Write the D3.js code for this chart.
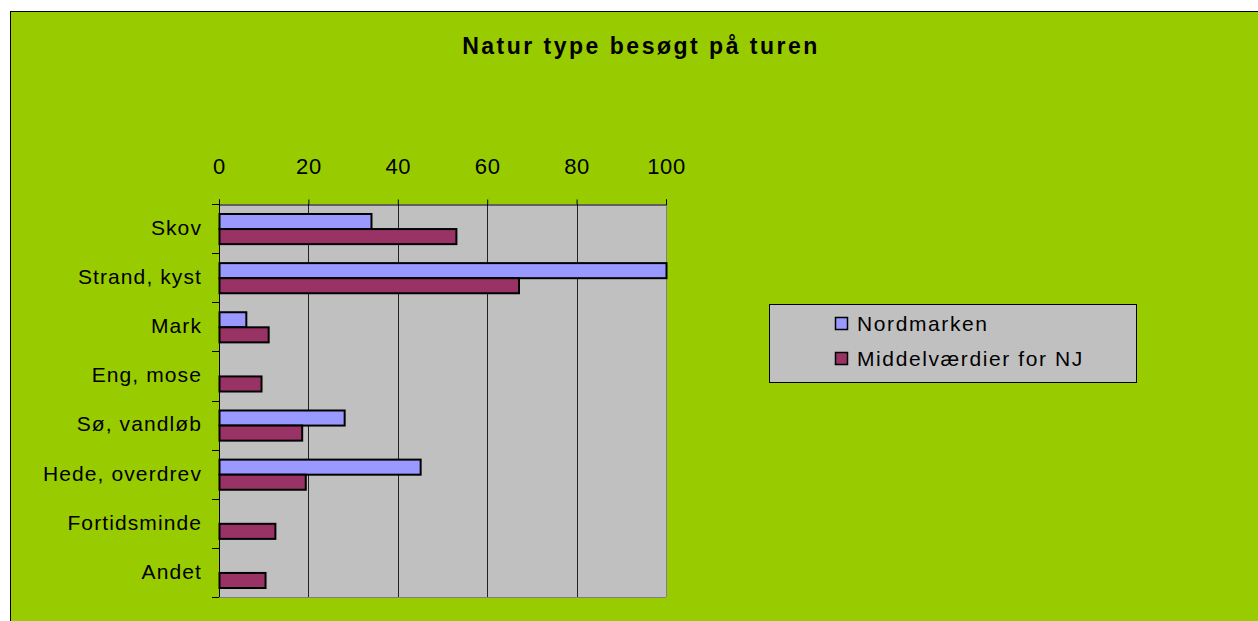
<!DOCTYPE html>
<meta charset="utf-8">
<html>
  <head>
    <script src="https://d3js.org/d3.v7.min.js"></script>
    <style>
      body { margin: 0; background: #fff; }
      text { font-family: Arial, "Liberation Sans", sans-serif; }
    </style>
  </head>
  <body>
    <div id="chart"></div>

    <script type="text/javascript">
      var categories = ["Skov", "Strand, kyst", "Mark", "Eng, mose", "Sø, vandløb", "Hede, overdrev", "Fortidsminde", "Andet"];
      var seriesNames = ["Nordmarken", "Middelværdier for NJ"];
      var nordmarken = [34, 100, 6, 0, 28, 45, 0, 0];
      var middel = [53, 67, 11, 9.4, 18.5, 19.3, 12.5, 10.3];
      var xTicks = [0, 20, 40, 60, 80, 100];
      var colors = ["#9999FF", "#993366"];

      var W = 1258, H = 621,
          plot = { left: 219, right: 666, top: 204, bottom: 597 };

      var svg = d3.select("#chart").append("svg")
          .attr("width", W)
          .attr("height", H);

      // green chart area
      svg.append("rect")
          .attr("x", 10.5).attr("y", 11.5)
          .attr("width", W).attr("height", H)
          .style("fill", "#99CC00")
          .style("stroke", "#000")
          .style("stroke-width", 1);

      svg.append("text")
          .attr("x", 641).attr("y", 54)
          .style("text-anchor", "middle")
          .style("font-weight", "bold")
          .style("font-size", "23px")
          .style("letter-spacing", "2.5px")
          .text("Natur type besøgt på turen");

      var x = d3.scaleLinear().domain([0, 100]).range([plot.left, plot.right]);
      var y = d3.scaleBand().domain(categories).range([plot.top, plot.bottom]);
      var y1 = d3.scaleBand().domain(d3.range(seriesNames.length))
          .range([0, y.bandwidth()]).paddingOuter(0.63).paddingInner(0);

      svg.append("rect")
          .attr("x", plot.left).attr("y", plot.top)
          .attr("width", plot.right - plot.left)
          .attr("height", plot.bottom - plot.top)
          .style("fill", "#C0C0C0");

      // gridlines
      svg.selectAll(".grid")
          .data(xTicks.slice(1))
          .enter().append("line")
            .attr("x1", function(d) { return Math.round(x(d)) + 0.5; })
            .attr("x2", function(d) { return Math.round(x(d)) + 0.5; })
            .attr("y1", plot.top).attr("y2", plot.bottom)
            .style("stroke", function(d) { return d == 100 ? "#808080" : "#222"; })
            .style("stroke-width", 1);

      svg.append("line")
          .attr("x1", plot.left).attr("x2", plot.right)
          .attr("y1", plot.bottom + 0.5).attr("y2", plot.bottom + 0.5)
          .style("stroke", "#808080");

      // top axis
      var xAxis = d3.axisTop(x).tickValues(xTicks).tickSize(5).tickPadding(30);
      var gx = svg.append("g")
          .attr("transform", "translate(0," + (plot.top + 0.5) + ")")
          .call(xAxis);
      gx.select(".domain").attr("stroke", "#000");
      gx.selectAll("text")
          .attr("y", -38)
          .attr("dy", "0.35em")
          .style("font-size", "22px")
          .style("letter-spacing", "0.6px")
          .style("font-family", "Arial, 'Liberation Sans', sans-serif")
          .attr("fill", "#000");

      // left axis with ticks at category boundaries
      svg.append("line")
          .attr("x1", plot.left + 0.5).attr("x2", plot.left + 0.5)
          .attr("y1", plot.top).attr("y2", plot.bottom)
          .style("stroke", "#000");
      svg.selectAll(".ytick")
          .data(d3.range(categories.length + 1))
          .enter().append("line")
            .attr("x1", plot.left - 7).attr("x2", plot.left)
            .attr("y1", function(i) { return Math.round(plot.top + i * y.step()) + 0.5; })
            .attr("y2", function(i) { return Math.round(plot.top + i * y.step()) + 0.5; })
            .style("stroke", "#000");
      svg.selectAll(".catLabel")
          .data(categories)
          .enter().append("text")
            .attr("x", 202)
            .attr("y", function(d) { return y(d) + y.bandwidth() / 2 - 1; })
            .attr("dy", "0.35em")
            .style("text-anchor", "end")
            .style("font-size", "21px")
            .style("letter-spacing", "1.1px")
            .text(function(d) { return d; });

      // bars
      var series = [nordmarken, middel];
      series.forEach(function(vals, s) {
        svg.selectAll(".bar" + s)
            .data(categories.map(function(c, i) { return { cat: c, v: vals[i] }; }).filter(function(d) { return d.v > 0; }))
            .enter().append("rect")
              .attr("x", plot.left + 0.5)
              .attr("y", function(d) { return y(d.cat) + y1(s) + 0.5; })
              .attr("width", function(d) { return x(d.v) - plot.left; })
              .attr("height", y1.bandwidth())
              .style("fill", colors[s])
              .style("stroke", "#000")
              .style("stroke-width", 2);
      });

      // legend
      var lg = svg.append("g");
      lg.append("rect")
          .attr("x", 769.5).attr("y", 304.5)
          .attr("width", 367).attr("height", 78)
          .style("fill", "#C0C0C0")
          .style("stroke", "#000");
      seriesNames.forEach(function(name, i) {
        var cy = 324 + i * 35;
        lg.append("rect")
            .attr("x", 835.5).attr("y", cy - 6.5)
            .attr("width", 12).attr("height", 12)
            .style("fill", colors[i])
            .style("stroke", "#000")
            .style("stroke-width", 1.5);
        lg.append("text")
            .attr("x", 857).attr("y", cy)
            .attr("dy", "0.35em")
            .style("font-size", "21px")
            .style("letter-spacing", "1.6px")
            .text(name);
      });
    </script>
  </body>
</html>
